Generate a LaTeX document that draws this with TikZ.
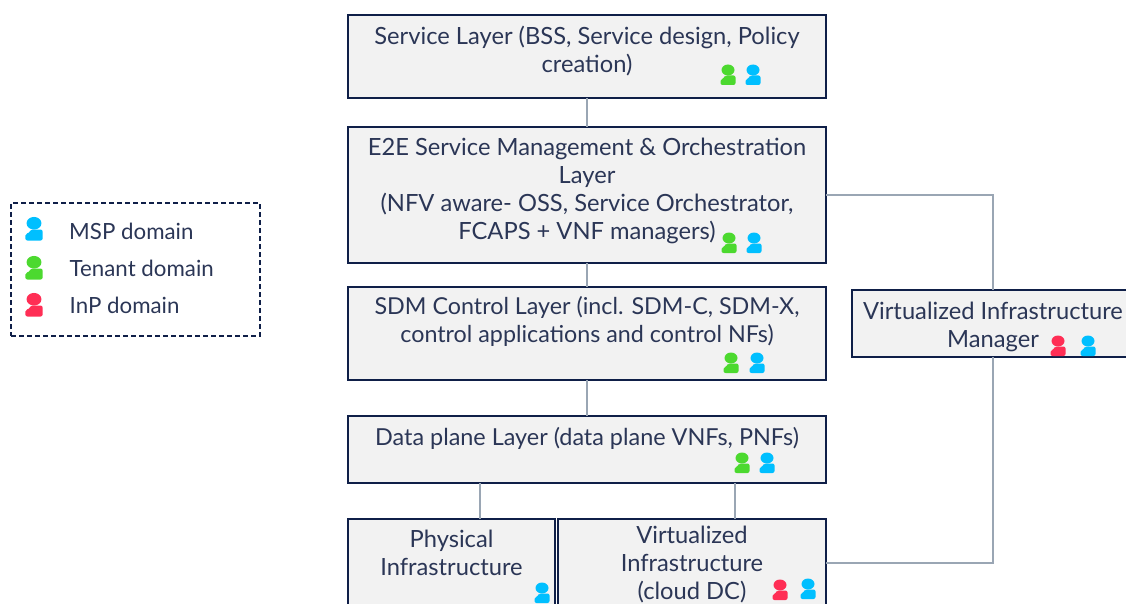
\documentclass[tikz,border=0pt]{standalone}
\usepackage{fontspec}
\setmainfont{Lato}
\usepackage{xcolor}
\usepackage{tikz}
\usetikzlibrary{calc,positioning}

\definecolor{navy}{HTML}{0F1F48}
\definecolor{inktext}{HTML}{2B3656}
\definecolor{wire}{HTML}{9AA6B4}
\definecolor{boxfill}{HTML}{F2F2F2}
\definecolor{msp}{HTML}{00BFFF}
\definecolor{tenant}{HTML}{4CD92F}
\definecolor{inp}{HTML}{FF2E55}

\tikzset{
  person/.pic={
    \fill[#1] (0,5) ellipse (6.5 and 5.5);
    \fill[#1,rounded corners=2pt] (-7.5,-10) -- (-7.5,-4) -- (-3,-3) -- (-3,-0.5) -- (7.5,-0.5) -- (7.5,-10) -- cycle;
  }
}

\begin{document}
\begin{tikzpicture}[
      x=1pt, y=1pt,
      layer/.style={
            rectangle, draw=navy, fill=boxfill, line width=2pt,
            outer sep=0pt, inner sep=0pt, align=center,
            text=inktext, font=\fontsize{23.7}{28}\selectfont
        },
      wide/.style={layer, minimum width=478pt},
      legendbox/.style={
            rectangle, draw=navy, line width=1.8pt, dash pattern=on 5pt off 3pt,
            outer sep=0pt, minimum width=249pt, minimum height=133pt
        },
      legendtext/.style={
            text=inktext, font=\fontsize{22.3}{26}\selectfont,
            anchor=west, inner sep=0pt
        },
      link/.style={draw=wire, line width=2pt}
      ]
    \useasboundingbox (0,0) rectangle (1126,-604);
    \clip (0,0) rectangle (1126,-604);

    \node[wide, minimum height=83pt, text depth=15pt] (service) at (587,-56.5) {Service Layer (BSS, Service design, Policy\\creation)};
    \node[wide, minimum height=136pt, text depth=12pt, below=29pt of service] (e2e) {E2E Service Management \& Orchestration\\Layer\\(NFV aware- OSS, Service Orchestrator,\\FCAPS + VNF managers)\hspace{17pt}};
    \node[wide, minimum height=93pt, text depth=29pt, below=24pt of e2e, font=\fontsize{23.3}{28}\selectfont] (sdm) {SDM Control Layer (incl. SDM-C, SDM-X,\\control applications and control NFs)};
    \node[wide, minimum height=67pt, text depth=27pt, below=36pt of sdm, font=\fontsize{23.4}{28}\selectfont] (data) {Data plane Layer (data plane VNFs, PNFs)};
    \node[layer, minimum width=207pt, minimum height=88pt, text depth=20pt, below=36pt of data.south west, anchor=north west] (phys) {Physical\\Infrastructure};
    \node[layer, minimum width=268pt, minimum height=88pt, text height=76pt, right=3pt of phys] (virt) {Virtualized\\Infrastructure\\(cloud DC)};
    \node[layer, minimum width=282pt, minimum height=67pt, text height=52pt] (vim) at (993,-323.5) {Virtualized Infrastructure\\Manager};

    \draw[link] (service) -- (e2e);
    \draw[link] (e2e) -- (sdm);
    \draw[link] (sdm) -- (data);
    \draw[link] ($(phys.north)+(28.5,0)$) -- ($(phys.north)+(28.5,36)$);
    \draw[link] ($(virt.north)+(43,0)$) -- ($(virt.north)+(43,36)$);
    \draw[link] (e2e) -| (vim);
    \draw[link] (vim) |- (virt);

    \pic at (728,-75) {person=tenant};
    \pic at (753,-75) {person=msp};
    \pic at (729,-243) {person=tenant};
    \pic at (754,-243) {person=msp};
    \pic at (731,-363) {person=tenant};
    \pic at (757,-363) {person=msp};
    \pic at (742,-463) {person=tenant};
    \pic at (767,-463) {person=msp};
    \pic at (542,-593) {person=msp};
    \pic at (780,-590) {person=inp};
    \pic at (808,-589) {person=msp};
    \pic at (1058,-346) {person=inp};
    \pic at (1088,-346) {person=msp};

    % legend
    \node[legendbox] (legend) at (135.5,-269.5) {};
    \pic[scale=1.15] at (34,-229) {person=msp};
    \pic[scale=1.15] at (34,-268) {person=tenant};
    \pic[scale=1.15] at (34,-305) {person=inp};
    \node[legendtext] (mspname) at (69,-231) {MSP domain};
    \node[legendtext] (tenantname) at (69.5,-268) {Tenant domain};
    \node[legendtext] (inpname) at (69.5,-305) {InP domain};
\end{tikzpicture}
\end{document}
